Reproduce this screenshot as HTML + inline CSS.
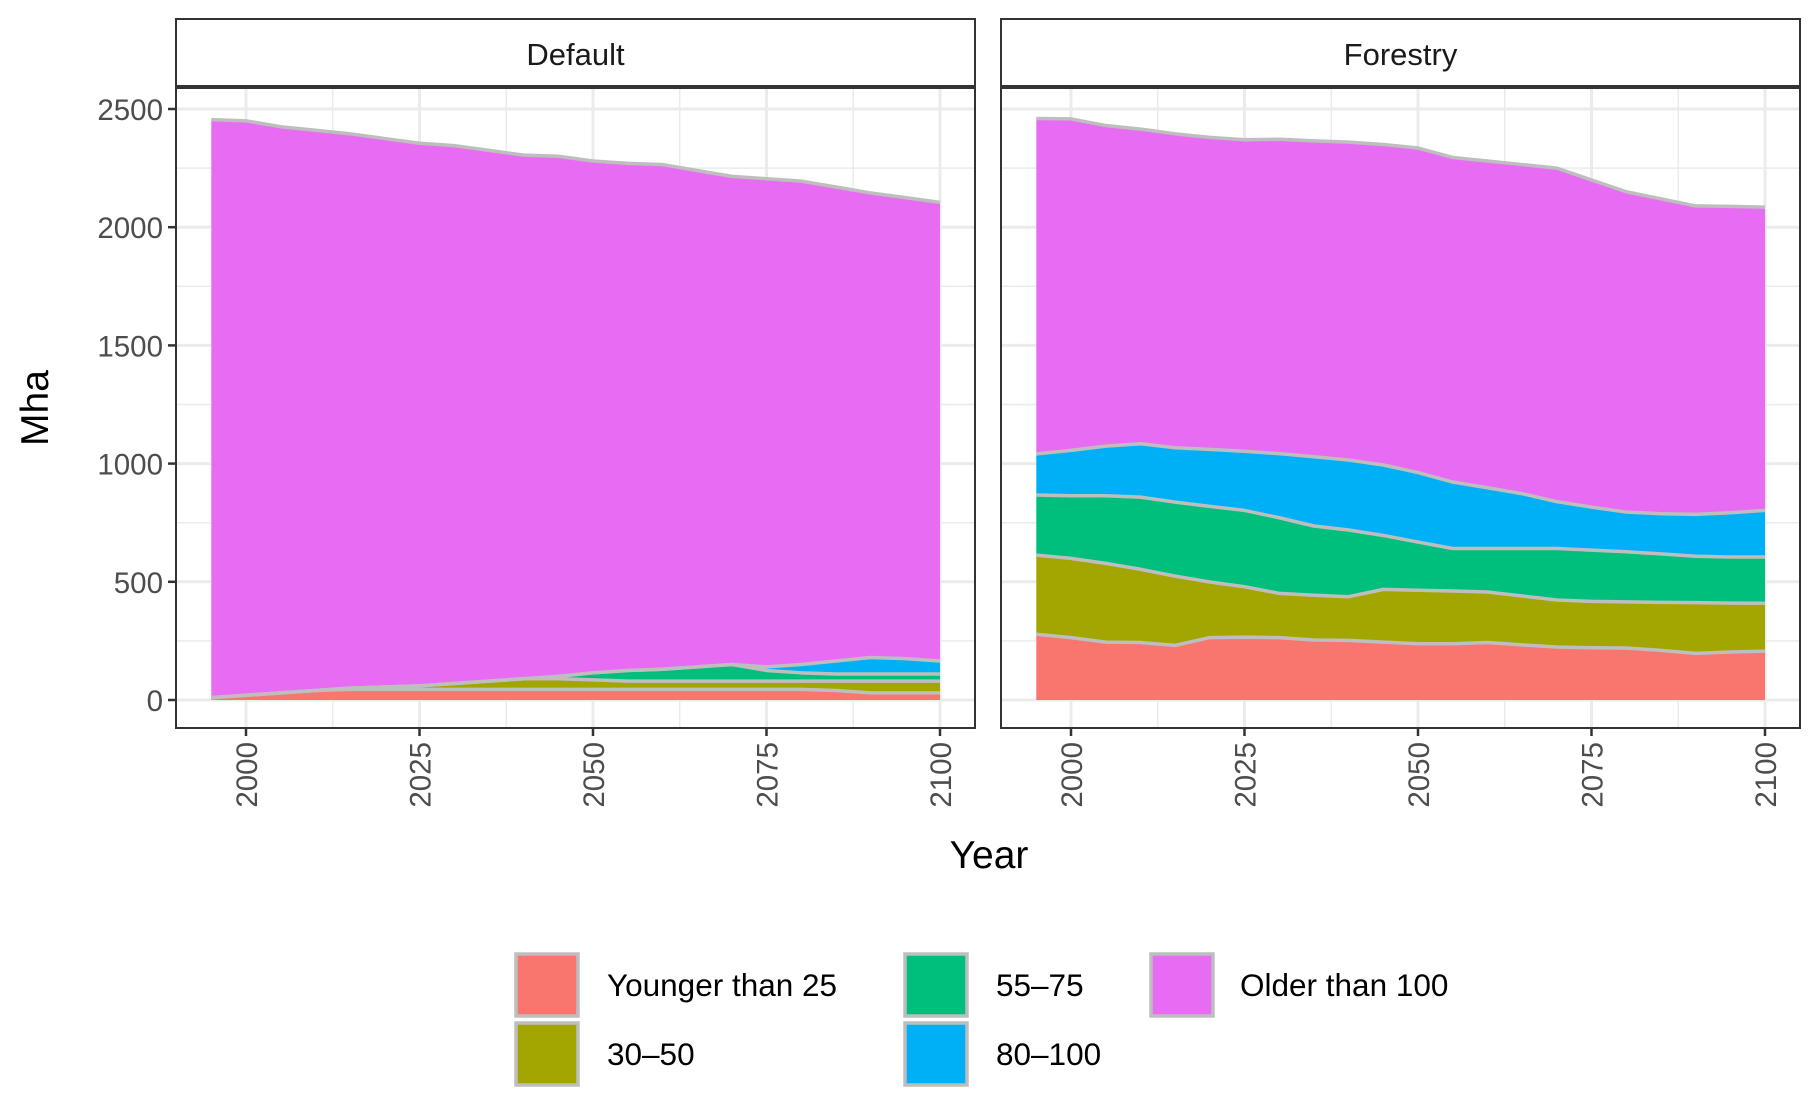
<!DOCTYPE html>
<html><head><meta charset="utf-8"><style>
body{margin:0;background:#fff}
svg{display:block;font-family:"Liberation Sans",Arial,sans-serif}
</style></head><body>
<svg id="chart" width="1820" height="1110" viewBox="0 0 1820 1110" xmlns="http://www.w3.org/2000/svg">
<g id="panels"></g>
<text x="0" y="0" transform="translate(48,408) rotate(-90)" text-anchor="middle" font-size="39" fill="#000">Mha</text>
<text x="989" y="868" text-anchor="middle" font-size="39" fill="#000">Year</text>
<g id="legend"></g>
</svg>
<script>
const years=[1995,2000,2005,2010,2015,2020,2025,2030,2035,2040,2045,2050,2055,2060,2065,2070,2075,2080,2085,2090,2095,2100];
const categories=["Younger than 25","30–50","55–75","80–100","Older than 100"];
const colors=["#F8766D","#A3A500","#00BF7D","#00B0F6","#E76BF3"];
const panels=["Default","Forestry"];
const defYoung=[10,20,30,40,45,45,45,45,45,45,45,45,45,45,45,45,45,45,40,30,30,30];
const def3050=[0,0,0,0,5,10,15,25,35,45,45,40,35,35,35,35,35,35,40,50,50,50];
const def5575=[0,0,0,0,0,0,0,0,0,0,10,30,45,50,60,70,45,35,30,30,30,30];
const def80100=[0,0,0,0,0,0,0,0,0,0,0,0,0,0,0,0,15,35,55,70,65,55];
const defOlder=[2445,2430,2395,2370,2345,2320,2295,2275,2245,2215,2200,2165,2145,2135,2100,2065,2065,2045,2005,1965,1950,1940];
const forYoung=[278,264,245,243,231,264,266,264,254,252,245,238,238,243,233,224,221,220,210,197,203,207];
const for3050=[335,335,333,310,293,235,213,187,189,185,223,226,223,214,207,199,196,195,203,215,207,202];
const for5575=[254,265,286,305,313,320,323,320,293,282,228,204,180,184,201,218,217,212,205,196,195,196];
const for80100=[174,192,210,226,230,241,250,271,293,296,298,294,281,257,232,198,182,168,170,177,187,197];
const forOlder=[1419,1402,1356,1331,1328,1320,1318,1330,1336,1345,1356,1373,1373,1382,1392,1411,1384,1355,1332,1305,1296,1283];
const yTicks=[0,500,1000,1500,2000,2500];
const xTicks=[2000,2025,2050,2075,2100];
const seriesByPanel=[[defYoung,def3050,def5575,def80100,defOlder],[forYoung,for3050,for5575,for80100,forOlder]];

const NS="http://www.w3.org/2000/svg";
function mk(tag,attrs,parent){const e=document.createElementNS(NS,tag);for(const k in attrs)e.setAttribute(k,attrs[k]);parent.appendChild(e);return e;}
const panelX=[176,1001], panelW=799, stripTop=19, plotTop=88, plotBot=728;
const y=v=>700-v*(591/2500);
const root=document.getElementById('panels');
panels.forEach((name,pi)=>{
  const L=panelX[pi], R=L+panelW;
  const x=yr=>L+70+(yr-2000)*(694/100);
  const g=mk('g',{},root);
  
  
  [250,750,1250,1750,2250].forEach(v=>{mk('line',{x1:L,x2:R,y1:y(v),y2:y(v),stroke:'#ebebeb','stroke-width':1.5},g);});
  [2012.5,2037.5,2062.5,2087.5].forEach(v=>{mk('line',{x1:x(v),x2:x(v),y1:plotTop,y2:plotBot,stroke:'#ebebeb','stroke-width':1.5},g);});
  yTicks.forEach(v=>{mk('line',{x1:L,x2:R,y1:y(v),y2:y(v),stroke:'#ebebeb','stroke-width':3},g);});
  xTicks.forEach(v=>{mk('line',{x1:x(v),x2:x(v),y1:plotTop,y2:plotBot,stroke:'#ebebeb','stroke-width':3},g);});
  const ser=seriesByPanel[pi];
  let base=years.map(()=>0);
  const tops=[];
  ser.forEach((s,si)=>{
    const top=base.map((b,i)=>b+s[i]);
    let d='M'+years.map((yr,i)=>x(yr)+','+y(top[i])).join('L');
    for(let i=years.length-1;i>=0;i--)d+='L'+x(years[i])+','+y(base[i]);
    const p=mk('path',{d:d+'Z',fill:colors[si]},g);
    
    
    tops.push(top);base=top;
  });
  tops.forEach(top=>{
    mk('path',{d:'M'+years.map((yr,i)=>x(yr)+','+y(top[i])).join('L'),fill:'none',stroke:'#bebebe','stroke-width':3.5,'stroke-linejoin':'round'},g);
  });
  mk('rect',{x:L,y:plotTop,width:panelW,height:plotBot-plotTop,fill:'none',stroke:'#333','stroke-width':2},g);
  const st=mk('rect',{x:L,y:stripTop,width:panelW,height:plotTop-stripTop-2,fill:'#fff',stroke:'#333','stroke-width':2},g);
  
  
  const stt=mk('text',{x:(L+R)/2,y:65,'text-anchor':'middle','font-size':31,fill:'#1a1a1a'},g);
  stt.textContent=name;
  
  
  xTicks.forEach(v=>{
    mk('line',{x1:x(v),x2:x(v),y1:plotBot,y2:plotBot+8,stroke:'#333','stroke-width':2.5},g);
    const t=mk('text',{transform:`translate(${x(v)+11},${plotBot+14}) rotate(-90)`,'text-anchor':'end','font-size':29.5,fill:'#4d4d4d'},g);
    t.textContent=v;
    
    
  });
  if(pi===0){yTicks.forEach(v=>{
    mk('line',{x1:L-8,x2:L,y1:y(v),y2:y(v),stroke:'#333','stroke-width':2.5},g);
    const t=mk('text',{x:L-13,y:y(v)+11,'text-anchor':'end','font-size':29.5,fill:'#4d4d4d'},g);
    t.textContent=v;
    
    
  });}
});
const lg=document.getElementById('legend');
const pos=[[514,952,607],[514,1021,607],[903,952,996],[903,1021,996],[1149,952,1240]];
categories.forEach((c,i)=>{
  const [kx,ky,tx]=pos[i];
  const r=mk('rect',{x:kx+2,y:ky+2,width:62,height:62,fill:colors[i],stroke:'#bebebe','stroke-width':3.5},lg);
  
  
  const t=mk('text',{x:tx,y:ky+44,'font-size':31.5,fill:'#000'},lg);
  t.textContent=c;
  
  
});
</script>
</body></html>
